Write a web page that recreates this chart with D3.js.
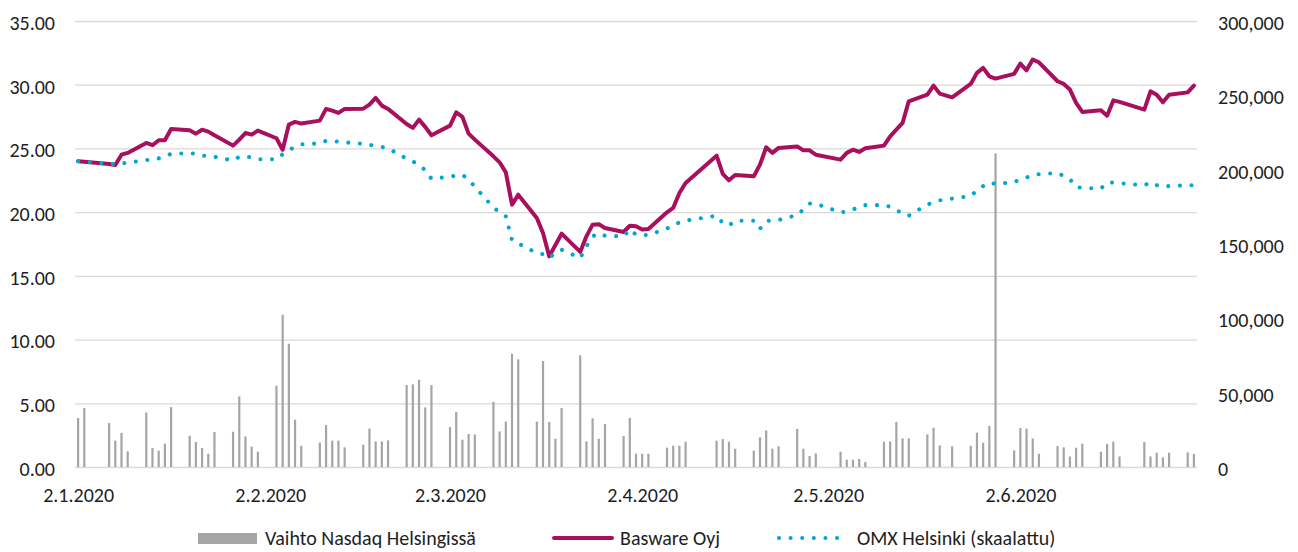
<!DOCTYPE html>
<html><head><meta charset="utf-8">
<script src="https://cdn.jsdelivr.net/npm/d3@7"></script>
<style>
body{margin:0;background:#fff}
svg text{font-family:Carlito,Calibri,Lato,sans-serif;fill:#1e1e1e}
</style>
</head><body>
<svg id="c" width="1298" height="552"></svg>
<script>
// ---------- DATA ----------
const dates = [
 "2020-01-02","2020-01-03","2020-01-07","2020-01-08","2020-01-09","2020-01-10","2020-01-13","2020-01-14","2020-01-15","2020-01-16","2020-01-17","2020-01-20","2020-01-21","2020-01-22","2020-01-23","2020-01-24","2020-01-27","2020-01-28","2020-01-29","2020-01-30","2020-01-31",
 "2020-02-03","2020-02-04","2020-02-05","2020-02-06","2020-02-07","2020-02-10","2020-02-11","2020-02-12","2020-02-13","2020-02-14","2020-02-17","2020-02-18","2020-02-19","2020-02-20","2020-02-21","2020-02-24","2020-02-25","2020-02-26","2020-02-27","2020-02-28",
 "2020-03-02","2020-03-03","2020-03-04","2020-03-05","2020-03-06","2020-03-09","2020-03-10","2020-03-11","2020-03-12","2020-03-13","2020-03-16","2020-03-17","2020-03-18","2020-03-19","2020-03-20","2020-03-23","2020-03-24","2020-03-25","2020-03-26","2020-03-27","2020-03-30","2020-03-31",
 "2020-04-01","2020-04-02","2020-04-03","2020-04-06","2020-04-07","2020-04-08","2020-04-09","2020-04-14","2020-04-15","2020-04-16","2020-04-17","2020-04-20","2020-04-21","2020-04-22","2020-04-23","2020-04-24","2020-04-27","2020-04-28","2020-04-29","2020-04-30",
 "2020-05-04","2020-05-05","2020-05-06","2020-05-07","2020-05-08","2020-05-11","2020-05-12","2020-05-13","2020-05-14","2020-05-15","2020-05-18","2020-05-19","2020-05-20","2020-05-22","2020-05-25","2020-05-26","2020-05-27","2020-05-28","2020-05-29",
 "2020-06-01","2020-06-02","2020-06-03","2020-06-04","2020-06-05","2020-06-08","2020-06-09","2020-06-10","2020-06-11","2020-06-12","2020-06-15","2020-06-16","2020-06-17","2020-06-18","2020-06-22","2020-06-23","2020-06-24","2020-06-25","2020-06-26","2020-06-29","2020-06-30"
];
const basware = [
 24.0,23.95,23.78,23.7,24.51,24.65,25.43,25.25,25.64,25.64,26.53,26.42,26.16,26.47,26.32,26.03,25.22,25.69,26.21,26.08,26.4,
 25.8,24.9,26.87,27.08,26.95,27.18,28.1,27.97,27.79,28.1,28.12,28.44,28.96,28.36,28.1,26.92,26.61,27.26,26.69,26.03,
 26.79,27.83,27.47,26.16,25.69,24.38,23.91,23.12,20.59,21.37,19.54,18.37,16.53,17.42,18.31,16.88,18.1,19.02,19.05,18.76,18.44,18.93,
 18.89,18.63,18.68,19.99,20.33,21.5,22.29,24.43,23.0,22.5,22.92,22.81,23.73,25.09,24.65,25.04,25.16,24.85,24.85,24.51,
 24.12,24.65,24.9,24.72,25.01,25.22,25.95,26.48,27.0,28.7,29.22,29.93,29.3,29.01,30.06,30.93,31.32,30.66,30.48,
 30.85,31.66,31.13,31.97,31.76,30.27,30.06,29.62,28.57,27.86,27.99,27.57,28.77,28.65,28.04,29.48,29.22,28.62,29.22,29.4,29.93
];
const omx = [
 23.99,23.95,23.8,23.75,23.82,23.88,24.08,24.17,24.22,24.37,24.57,24.63,24.57,24.45,24.37,24.35,24.05,24.35,24.35,24.3,24.15,
 24.15,24.55,24.85,25.14,25.32,25.4,25.6,25.6,25.52,25.48,25.36,25.28,25.2,25.12,25.0,24.2,23.98,23.7,23.3,22.62,
 22.78,22.88,22.93,22.55,22.0,20.36,19.99,19.67,17.8,17.55,16.79,16.7,16.42,16.8,17.05,16.4,17.3,18.1,18.35,18.15,18.1,18.65,
 18.23,18.2,18.2,18.72,18.95,19.2,19.33,19.72,19.15,18.95,19.33,19.33,18.7,19.3,19.36,19.38,19.77,20.2,20.67,20.67,
 19.98,20.05,20.2,20.42,20.55,20.55,20.42,20.2,19.85,19.72,20.59,20.78,20.93,21.06,21.27,21.7,22.05,22.32,22.22,
 22.35,22.58,22.72,22.87,22.98,23.07,22.85,22.6,21.97,21.9,21.85,22.32,22.32,22.28,22.1,22.35,22.12,22.0,22.05,22.1,22.12
];
const volume = [
 33000,39700,29600,17700,22900,10500,36700,12800,11000,15700,40300,21000,16800,12800,8900,23500,23700,47500,20600,13700,10300,
 54700,102400,82900,31800,14300,16500,28200,17700,17700,13200,15000,25800,17200,17200,17900,55100,55600,58700,40100,55100,
 26900,37000,18400,22200,21900,43900,23900,30500,76200,72400,30500,71300,30300,19000,39700,75100,17200,32700,19000,28900,20800,33000,
 8900,8900,8900,13000,14300,14300,17000,17700,18800,17000,12300,11000,19900,24600,12300,13900,25600,12300,7400,9100,
 10300,4900,4900,5400,3400,17000,17200,30300,19200,19200,21900,26400,14500,13900,14300,23100,16300,27600,211000,
 11200,26200,25800,19200,8900,14100,13200,7100,13000,15700,10300,15500,17000,7100,16800,7100,9600,6500,9600,9800,8700
];
const leftTicks = [0,5,10,15,20,25,30,35];
const rightTicks = [0,50000,100000,150000,200000,250000,300000];
const xTickDates = ["2020-01-02","2020-02-02","2020-03-02","2020-04-02","2020-05-02","2020-06-02"];
const xDomain = ["2020-01-02","2020-06-30"];
const seriesNames = ["Vaihto Nasdaq Helsingissä","Basware Oyj","OMX Helsinki (skaalattu)"];

// ---------- STYLE / LAYOUT ----------
const COL_BAR = "#a5a5a5", COL_BAS = "#a80f5c", COL_OMX = "#00a8d0", COL_GRID = "#d9d9d9";
const FS = 20;
const svg = d3.select("#c");
const plot = {left:75, right:1197, top:21, bottom:467};
const parse = d3.utcParse("%Y-%m-%d");
const DAY = 864e5;
const x = d3.scaleUtc()
  .domain([new Date(+parse(xDomain[0]) - DAY/2), new Date(+parse(xDomain[1]) + DAY/2)])
  .range([plot.left, plot.right]);
const yL = d3.scaleLinear().domain([0,35]).range([plot.bottom, plot.top]);
const yR = d3.scaleLinear().domain([0,300000]).range([plot.bottom, plot.top]);

const data = dates.map((d,i)=>({date:parse(d), b:basware[i], o:omx[i], v:volume[i]}));

// gridlines
const grid = svg.append("g").attr("transform",`translate(${plot.left},0)`)
  .call(d3.axisLeft(yL).tickValues(leftTicks).tickSize(-(plot.right-plot.left)).tickFormat(""));
grid.select(".domain").remove();
grid.selectAll("line").attr("stroke",COL_GRID).attr("stroke-width",1.3);

// left axis labels
const la = svg.append("g").attr("transform",`translate(55,0)`)
  .call(d3.axisLeft(yL).tickValues(leftTicks).tickSize(0).tickPadding(0).tickFormat(d3.format(".2f")));
la.select(".domain").remove();
la.selectAll("text").attr("font-size",FS).attr("dy","0.42em");

// right axis labels
const ra = svg.append("g").attr("transform",`translate(1218,0)`)
  .call(d3.axisRight(yR).tickValues(rightTicks).tickSize(0).tickPadding(0).tickFormat(d3.format(",")));
ra.select(".domain").remove();
ra.selectAll("text").attr("font-size",FS).attr("dy","0.42em");

// x axis labels
const xa = svg.append("g").attr("transform",`translate(0,${plot.bottom})`)
  .call(d3.axisBottom(x).tickValues(xTickDates.map(parse)).tickSize(0).tickPadding(0).tickFormat(d3.utcFormat("%-d.%-m.%Y")));
xa.select(".domain").remove();
xa.selectAll("text").attr("font-size",FS).attr("dy",null).attr("y",34.5);

// bars
svg.append("g").selectAll("rect").data(data).join("rect")
  .attr("x",d=>x(d.date)-1.1).attr("width",2.2)
  .attr("y",d=>yR(d.v)).attr("height",d=>yR(0)-yR(d.v))
  .attr("fill",COL_BAR);

// basware line
const lineB = d3.line().x(d=>x(d.date)).y(d=>yL(d.b));
svg.append("path").datum(data).attr("d",lineB)
  .attr("fill","none").attr("stroke",COL_BAS).attr("stroke-width",4)
  .attr("stroke-linejoin","round").attr("stroke-linecap","round");

// omx dotted line
const lineO = d3.line().x(d=>x(d.date)).y(d=>yL(d.o));
svg.append("path").datum(data).attr("d",lineO)
  .attr("fill","none").attr("stroke",COL_OMX).attr("stroke-width",4.1)
  .attr("stroke-dasharray","0.01 11.6").attr("stroke-linecap","round");

// legend
const lg = svg.append("g").attr("font-size",FS);
lg.append("rect").attr("x",198).attr("y",533).attr("width",59).attr("height",11).attr("fill",COL_BAR);
lg.append("text").attr("x",265).attr("y",538).attr("dy","0.36em").text(seriesNames[0]);
lg.append("line").attr("x1",554).attr("x2",612).attr("y1",538).attr("y2",538)
  .attr("stroke",COL_BAS).attr("stroke-width",4).attr("stroke-linecap","round");
lg.append("text").attr("x",620).attr("y",538).attr("dy","0.36em").text(seriesNames[1]);
lg.append("line").attr("x1",779).attr("x2",842).attr("y1",538).attr("y2",538)
  .attr("stroke",COL_OMX).attr("stroke-width",4.1).attr("stroke-dasharray","0.01 11.6").attr("stroke-linecap","round");
lg.append("text").attr("x",857).attr("y",538).attr("dy","0.36em").text(seriesNames[2]);
</script>
</body></html>
